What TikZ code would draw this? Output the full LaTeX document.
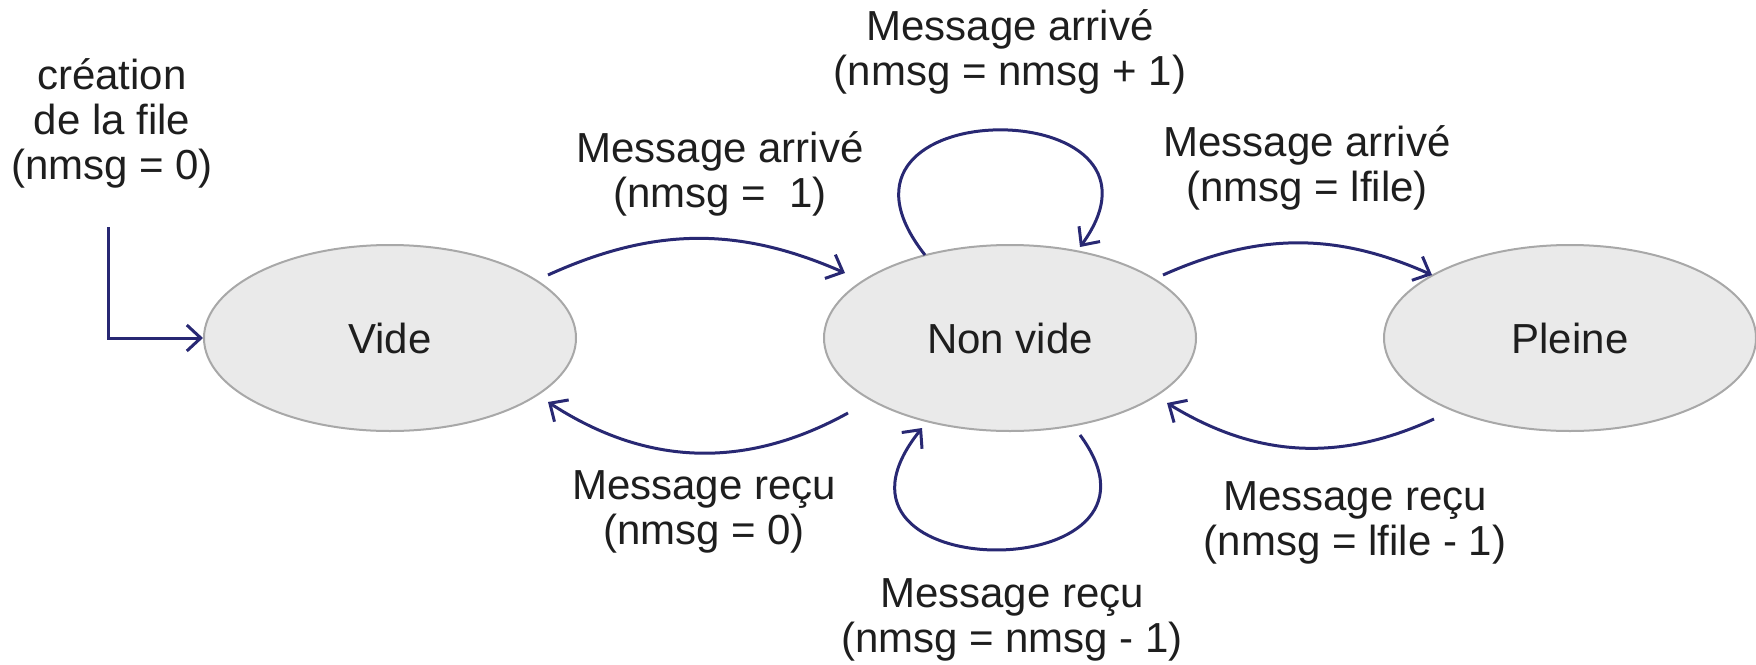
\documentclass[tikz,border=0pt]{standalone}
\usepackage{fontspec}
\setmainfont{Liberation Sans}
\usetikzlibrary{shapes.geometric,arrows.meta,calc}
\definecolor{arr}{RGB}{40,40,115}
\definecolor{efill}{RGB}{234,234,234}
\definecolor{edraw}{RGB}{168,168,168}
\definecolor{txt}{RGB}{30,30,30}
\newcommand{\lbltext}[1]{\begin{tabular}[t]{@{}c@{}}#1\end{tabular}}
\begin{document}
\begin{tikzpicture}[x=1pt,y=1pt,
  state/.style={ellipse, draw=edraw, fill=efill, line width=2pt, minimum width=372pt, minimum height=186pt, inner sep=0pt, font=\fontsize{42}{45}\selectfont, text=txt},
  lbl/.style={anchor=base, inner sep=0pt, font=\fontsize{42}{45}\selectfont, text=txt},
  tr/.style={draw=arr, line width=3pt, -{Straight Barb[length=14pt,width=26pt,line width=3pt]}}
]
\useasboundingbox (0,0) rectangle (1756,-664);
\node[state] (vide) at (390,-338) {Vide};
\node[state] (nv) at (1010,-338) {Non vide};
\node[state] (pl) at (1570,-338) {Pleine};

\node[lbl] (l1) at (112,-89) {\lbltext{création\\de la file\\(nmsg = 0)}};
\node[lbl] (l2) at (720,-162) {\lbltext{Message arrivé\\(nmsg =\ \ 1)}};
\node[lbl] (l3) at (1010,-40) {\lbltext{Message arrivé\\(nmsg = nmsg + 1)}};
\node[lbl] (l4) at (1307,-156) {\lbltext{Message arrivé\\(nmsg = lfile)}};
\node[lbl] (l5) at (704,-499) {\lbltext{Message reçu\\(nmsg = 0)}};
\node[lbl] (l6) at (1355,-510) {\lbltext{Message reçu\\(nmsg = lfile - 1)}};
\node[lbl] (l7) at (1012,-607) {\lbltext{Message reçu\\(nmsg = nmsg - 1)}};

\coordinate (s0) at (108,-227);
\draw[tr] (s0) |- (vide.west);
\draw[tr] ([shift={(158,63)}]vide.center) to[bend left=24] ([shift={(-165,65)}]nv.center);
\draw[tr] ([shift={(-85,83)}]nv.center) .. controls ([shift={(-215,248)}]nv.center) and ([shift={(184,248)}]nv.center) .. ([shift={(70,91)}]nv.center);
\draw[tr] ([shift={(153,63)}]nv.center) to[bend left=24] ([shift={(-138,63)}]pl.center);
\draw[tr] ([shift={(-136,-81)}]pl.center) to[bend left=28] ([shift={(157,-65)}]nv.center);
\draw[tr] ([shift={(-162,-75)}]nv.center) to[bend left=31] ([shift={(158,-64)}]vide.center);
\draw[tr] ([shift={(70,-97)}]nv.center) .. controls ([shift={(184,-251)}]nv.center) and ([shift={(-217,-251)}]nv.center) .. ([shift={(-88,-90)}]nv.center);
\end{tikzpicture}
\end{document}
